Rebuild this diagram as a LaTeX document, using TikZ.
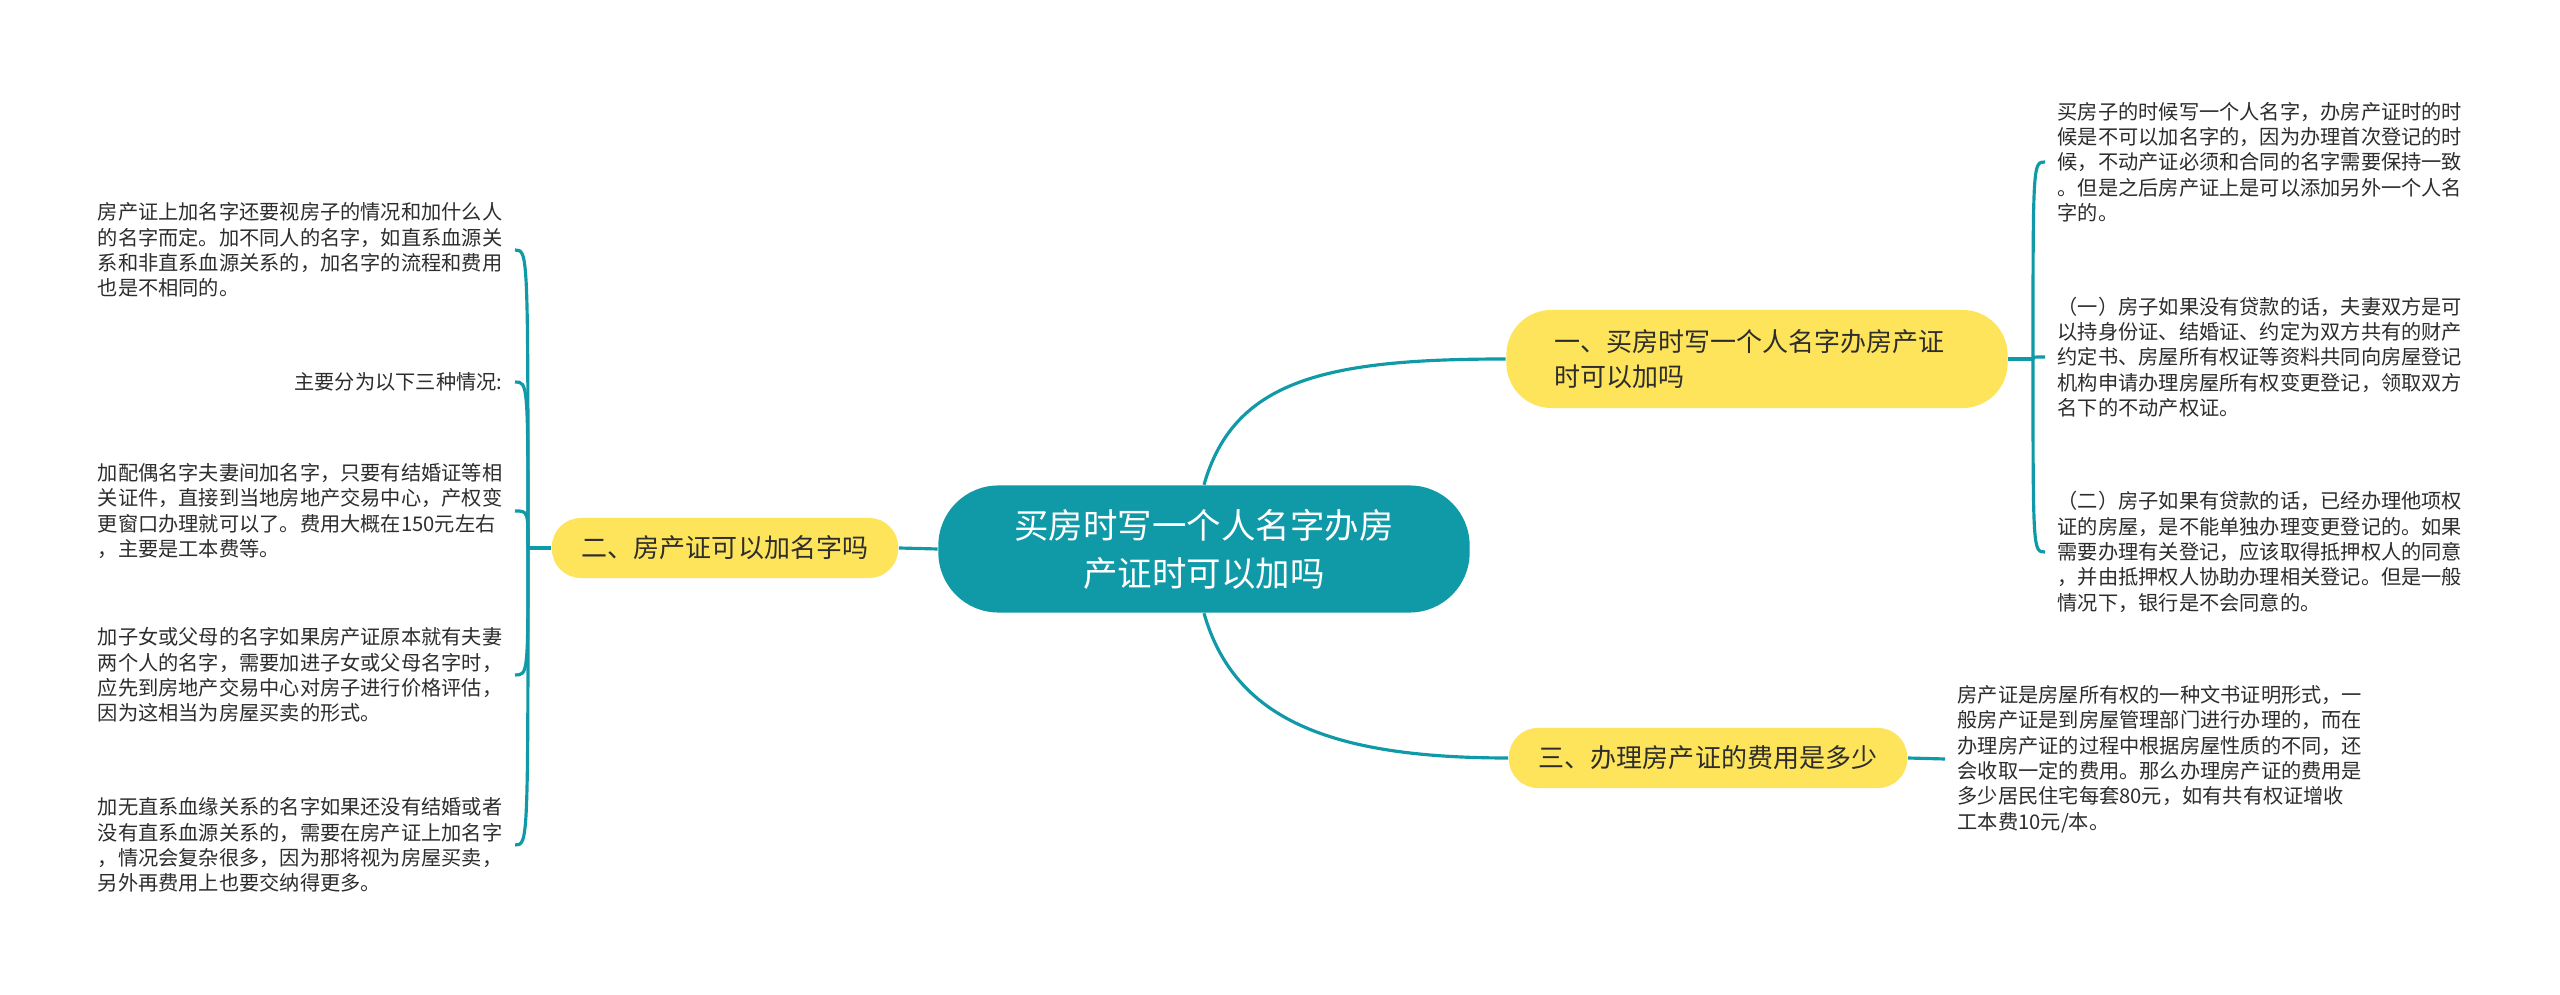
\documentclass[tikz,border=0pt]{standalone}
\usepackage{fontspec}
\newfontfamily\cjk{Noto Sans CJK SC}
\usepackage{tikz}
\usetikzlibrary{positioning,calc}
\definecolor{turquesa}{RGB}{16,154,168}
\definecolor{amarillo}{RGB}{253,228,90}
\definecolor{gristexto}{RGB}{45,45,45}

\begin{document}
\begin{tikzpicture}[x=0.01cm, y=-0.01cm,
  raiz/.style={fill=turquesa, text=white, rounded corners=0.6cm,
    minimum width=5.31cm, minimum height=1.27cm, align=center,
    font=\cjk\fontsize{9.8pt}{13.6pt}\selectfont},
  rama/.style={fill=amarillo, text=gristexto, align=left, rounded corners=0.29cm,
    inner xsep=0.3cm, minimum height=0.6cm,
    font=\cjk\fontsize{7.4pt}{10pt}\selectfont},
  hoja/.style={text=gristexto, align=left, inner xsep=0.12cm, inner ysep=0pt,
    font=\cjk\fontsize{5.75pt}{7.2pt}\selectfont},
  enlace/.style={draw=turquesa, line width=0.9pt},
]
  \fill[white] (0,0) rectangle (2560,995);
  \useasboundingbox (0,0) rectangle (2560,995);

  % Nodo central y ramas
  \node[raiz] (centro) at (1204,549) {买房时写一个人名字办房\\产证时可以加吗};
  \node[rama, text width=4.05cm, inner xsep=0.48cm, minimum height=0.98cm,
    rounded corners=0.45cm] (b1) at (1757,359)
    {一、买房时写一个人名字办房产证\\时可以加吗};
  \node[rama] (b2) at (725,548) {二、房产证可以加名字吗};
  \node[rama] (b3) at (1708,758) {三、办理房产证的费用是多少};

  % Hojas de la derecha
  \node[hoja, anchor=west] (r1) at (2045,162)
    {买房子的时候写一个人名字，办房产证时的时\\
     候是不可以加名字的，因为办理首次登记的时\\
     候，不动产证必须和合同的名字需要保持一致\\
     。但是之后房产证上是可以添加另外一个人名\\
     字的。};
  \node[hoja, anchor=west] (r2) at (2045,357)
    {（一）房子如果没有贷款的话，夫妻双方是可\\
     以持身份证、结婚证、约定为双方共有的财产\\
     约定书、房屋所有权证等资料共同向房屋登记\\
     机构申请办理房屋所有权变更登记，领取双方\\
     名下的不动产权证。};
  \node[hoja, anchor=west] (r3) at (2045,552)
    {（二）房子如果有贷款的话，已经办理他项权\\
     证的房屋，是不能单独办理变更登记的。如果\\
     需要办理有关登记，应该取得抵押权人的同意\\
     ，并由抵押权人协助办理相关登记。但是一般\\
     情况下，银行是不会同意的。};
  \node[hoja, anchor=west] (r4) at (1945,759)
    {房产证是房屋所有权的一种文书证明形式，一\\
     般房产证是到房屋管理部门进行办理的，而在\\
     办理房产证的过程中根据房屋性质的不同，还\\
     会收取一定的费用。那么办理房产证的费用是\\
     多少居民住宅每套80元，如有共有权证增收\\
     工本费10元/本。};

  % Hojas de la izquierda
  \node[hoja, anchor=east] (l1) at (515,250)
    {房产证上加名字还要视房子的情况和加什么人\\
     的名字而定。加不同人的名字，如直系血源关\\
     系和非直系血源关系的，加名字的流程和费用\\
     也是不相同的。};
  \node[hoja, anchor=east] (l2) at (515,382) {主要分为以下三种情况:};
  \node[hoja, anchor=east] (l3) at (515,511)
    {加配偶名字夫妻间加名字，只要有结婚证等相\\
     关证件，直接到当地房地产交易中心，产权变\\
     更窗口办理就可以了。费用大概在150元左右\\
     ，主要是工本费等。};
  \node[hoja, anchor=east] (l4) at (515,675)
    {加子女或父母的名字如果房产证原本就有夫妻\\
     两个人的名字，需要加进子女或父母名字时，\\
     应先到房地产交易中心对房子进行价格评估，\\
     因为这相当为房屋买卖的形式。};
  \node[hoja, anchor=east] (l5) at (515,845)
    {加无直系血缘关系的名字如果还没有结婚或者\\
     没有直系血源关系的，需要在房产证上加名字\\
     ，情况会复杂很多，因为那将视为房屋买卖，\\
     另外再费用上也要交纳得更多。};

  \coordinate (j1) at (2033,359);
  \coordinate (j2) at (528,548);

  % Enlaces
  \draw[enlace] (centro.west) -- (b2.east);
  \draw[enlace] (centro.north) .. controls ($(centro.north)+(30,-105)$)
    and ($(b1.west)+(-180,0)$) .. (b1.west);
  \draw[enlace] (centro.south) .. controls ($(centro.south)+(30,105)$)
    and ($(b3.west)+(-180,0)$) .. (b3.west);
  \draw[enlace] (b1.east) -- (j1);
  \draw[enlace] (b2.west) -- (j2);
  \draw[enlace] (b3.east) -- (r4.west);
  \foreach \h in {r1,r2,r3}
    \draw[enlace] (j1) .. controls (j1 |- \h.west) and (j1 |- \h.west) .. (\h.west);
  \foreach \h in {l1,l2,l3,l4,l5}
    \draw[enlace] (j2) .. controls (j2 |- \h.east) and (j2 |- \h.east) .. (\h.east);
\end{tikzpicture}
\end{document}
